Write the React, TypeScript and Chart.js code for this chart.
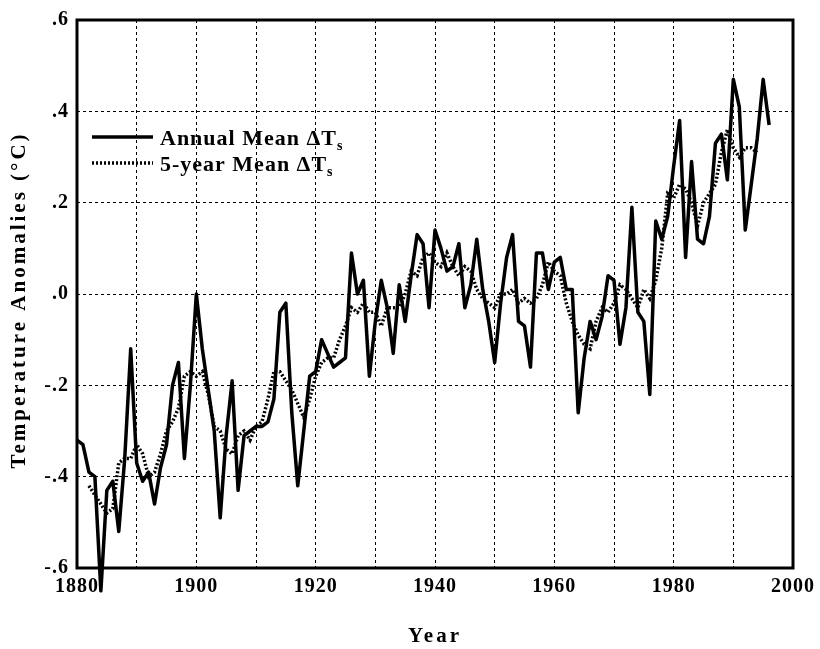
import { useEffect, useRef } from 'react';
import { Chart, registerables } from 'chart.js';

Chart.register(...registerables);

const SERIF = '"Liberation Serif", "Times New Roman", serif';

// Annual mean surface air temperature anomaly (°C), one value per year from FIRST_YEAR
const FIRST_YEAR = 1880;
const annualMean = [
  -0.32, -0.33, -0.39, -0.40, -0.65, -0.43, -0.41, -0.52, -0.36, -0.12, // 1880s
  -0.37, -0.41, -0.39, -0.46, -0.38, -0.33, -0.20, -0.15, -0.36, -0.20, // 1890s
  0.00, -0.12, -0.21, -0.30, -0.49, -0.31, -0.19, -0.43, -0.31, -0.30, // 1900s
  -0.29, -0.29, -0.28, -0.23, -0.04, -0.02, -0.26, -0.42, -0.30, -0.18, // 1910s
  -0.17, -0.10, -0.13, -0.16, -0.15, -0.14, 0.09, 0.00, 0.03, -0.18, // 1920s
  -0.06, 0.03, -0.03, -0.13, 0.02, -0.06, 0.04, 0.13, 0.11, -0.03, // 1930s
  0.14, 0.10, 0.05, 0.06, 0.11, -0.03, 0.02, 0.12, 0.01, -0.06, // 1940s
  -0.15, -0.02, 0.08, 0.13, -0.06, -0.07, -0.16, 0.09, 0.09, 0.01, // 1950s
  0.07, 0.08, 0.01, 0.01, -0.26, -0.14, -0.06, -0.10, -0.05, 0.04, // 1960s
  0.03, -0.11, -0.03, 0.19, -0.04, -0.06, -0.22, 0.16, 0.12, 0.17, // 1970s
  0.28, 0.38, 0.08, 0.29, 0.12, 0.11, 0.17, 0.33, 0.35, 0.25, // 1980s
  0.47, 0.41, 0.14, 0.24, 0.34, 0.47, 0.37, // 1990-1996
];

// 5-year running mean (°C), one value per year from FIVE_YEAR_START
const FIVE_YEAR_START = 1882;
const fiveYearMean = [
  -0.42, -0.44, -0.46, -0.48, -0.47, -0.37, -0.36, -0.36, // 1882-1889
  -0.33, -0.35, -0.40, -0.39, -0.35, -0.30, -0.28, -0.25, -0.18, -0.17, // 1890s
  -0.18, -0.17, -0.22, -0.29, -0.30, -0.34, -0.35, -0.31, -0.30, -0.32, // 1900s
  -0.29, -0.28, -0.23, -0.17, -0.17, -0.19, -0.21, -0.24, -0.27, -0.23, // 1910s
  -0.18, -0.15, -0.14, -0.14, -0.10, -0.07, -0.03, -0.04, -0.02, -0.04, // 1920s
  -0.04, -0.07, -0.03, -0.03, -0.03, 0.00, 0.05, 0.04, 0.08, 0.09, // 1930s
  0.07, 0.06, 0.09, 0.06, 0.04, 0.06, 0.05, 0.01, -0.01, -0.02, // 1940s
  -0.03, 0.00, 0.00, 0.01, -0.02, -0.01, -0.02, -0.01, 0.02, 0.07, // 1950s
  0.05, 0.04, -0.02, -0.06, -0.09, -0.11, -0.12, -0.06, -0.03, -0.04, // 1960s
  -0.02, 0.02, 0.01, -0.01, -0.03, 0.01, -0.01, 0.03, 0.10, 0.22, // 1970s
  0.21, 0.24, 0.23, 0.20, 0.15, 0.20, 0.22, 0.24, 0.31, 0.36, // 1980s
  0.32, 0.30, 0.32, 0.32, 0.31, // 1990-1994
];

const xLabelYears = [1880, 1900, 1920, 1940, 1960, 1980, 2000];
const yTickValues = [-0.6, -0.4, -0.2, 0, 0.2, 0.4, 0.6];
const yTickText = ['-.6', '-.4', '-.2', '.0', '.2', '.4', '.6'];

const frameAndText = {
  id: 'frameAndText',
  beforeDraw(chart: any) {
    chart.ctx.letterSpacing = '1px';
  },
  afterDraw(chart: any) {
    const { ctx, chartArea } = chart;
    const { left, top, right, bottom } = chartArea;
    ctx.save();
    ctx.letterSpacing = '0px';
    ctx.setLineDash([]);
    ctx.strokeStyle = '#000';
    ctx.fillStyle = '#000';

    // plot frame
    ctx.lineWidth = 3;
    ctx.strokeRect(left, top, right - left, bottom - top);

    // y-axis title
    ctx.save();
    ctx.translate(20, (top + bottom) / 2 + 6);
    ctx.rotate(-Math.PI / 2);
    ctx.font = `bold 21px ${SERIF}`;
    ctx.letterSpacing = '3px';
    ctx.textAlign = 'center';
    ctx.textBaseline = 'middle';
    ctx.fillText('Temperature Anomalies (\u00B0C)', 0, 0);
    ctx.restore();

    // x-axis title
    ctx.save();
    ctx.font = `bold 21px ${SERIF}`;
    ctx.letterSpacing = '3px';
    ctx.textAlign = 'center';
    ctx.textBaseline = 'alphabetic';
    ctx.fillText('Year', (left + right) / 2, 642);
    ctx.restore();

    // legend
    const rows = [
      { y: 137, dash: [] as number[], width: 3.5, text: 'Annual Mean \u0394T' },
      { y: 163, dash: [2, 2], width: 3.5, text: '5-year Mean \u0394T' },
    ];
    rows.forEach((r) => {
      ctx.save();
      ctx.lineWidth = r.width;
      ctx.setLineDash(r.dash);
      ctx.beginPath();
      ctx.moveTo(92, r.y);
      ctx.lineTo(153, r.y);
      ctx.stroke();
      ctx.restore();

      ctx.save();
      ctx.font = `bold 22px ${SERIF}`;
      ctx.letterSpacing = '1px';
      ctx.textAlign = 'left';
      ctx.textBaseline = 'alphabetic';
      ctx.fillText(r.text, 160, r.y + 8);
      const w = ctx.measureText(r.text).width;
      ctx.font = `bold 14px ${SERIF}`;
      ctx.fillText('s', 160 + w, r.y + 13);
      ctx.restore();
    });

    ctx.restore();
  },
};

export default function App() {
  const ref = useRef<HTMLCanvasElement>(null);

  useEffect(() => {
    const canvas = ref.current;
    if (!canvas) return;

    const annualPts = annualMean.map((v, i) => ({ x: FIRST_YEAR + i, y: v }));
    const fivePts = fiveYearMean.map((v, i) => ({ x: FIVE_YEAR_START + i, y: v }));
    const tickFont = { family: SERIF, size: 20, weight: 'bold' as const };

    const chart = new Chart(canvas, {
      type: 'line',
      data: {
        datasets: [
          {
            label: 'Annual Mean',
            data: annualPts,
            borderColor: '#000',
            borderWidth: 3.5,
            pointRadius: 0,
            tension: 0,
            clip: false as any,
            borderJoinStyle: 'round',
          },
          {
            label: '5-year Mean',
            data: fivePts,
            borderColor: '#000',
            borderWidth: 3.5,
            borderDash: [2, 2],
            pointRadius: 0,
            tension: 0,
            clip: false as any,
          },
        ],
      },
      options: {
        responsive: false,
        animation: false,
        layout: { padding: { top: 15, right: 23, left: 0, bottom: 0 } },
        plugins: {
          legend: { display: false },
          tooltip: { enabled: false },
        },
        scales: {
          x: {
            type: 'linear',
            min: 1880,
            max: 2000,
            ticks: {
              stepSize: 10,
              autoSkip: false,
              maxRotation: 0,
              padding: 7,
              color: '#000',
              font: tickFont,
              callback: (v: any) => (xLabelYears.includes(Math.round(Number(v))) ? String(Math.round(Number(v))) : ''),
            },
            grid: { color: '#000', lineWidth: 1, drawTicks: false },
            border: { display: false, dash: [3, 3] },
            afterFit: (s: any) => {
              s.height = 81;
            },
          },
          y: {
            type: 'linear',
            min: -0.6,
            max: 0.6,
            ticks: {
              stepSize: 0.2,
              padding: 8,
              color: '#000',
              font: tickFont,
              callback: (v: any) => {
                const i = yTickValues.findIndex((t) => Math.abs(t - Number(v)) < 1e-6);
                return i >= 0 ? yTickText[i] : '';
              },
            },
            grid: { color: '#000', lineWidth: 1, drawTicks: false },
            border: { display: false, dash: [3, 3] },
            afterFit: (s: any) => {
              s.width = 77;
            },
          },
        },
      },
      plugins: [frameAndText],
    });

    return () => chart.destroy();
  }, []);

  return (
    <div style={{ position: 'absolute', left: 0, top: 0, width: 820, height: 649, background: '#fff' }}>
      <canvas ref={ref} width={820} height={649} style={{ display: 'block' }} />
    </div>
  );
}
